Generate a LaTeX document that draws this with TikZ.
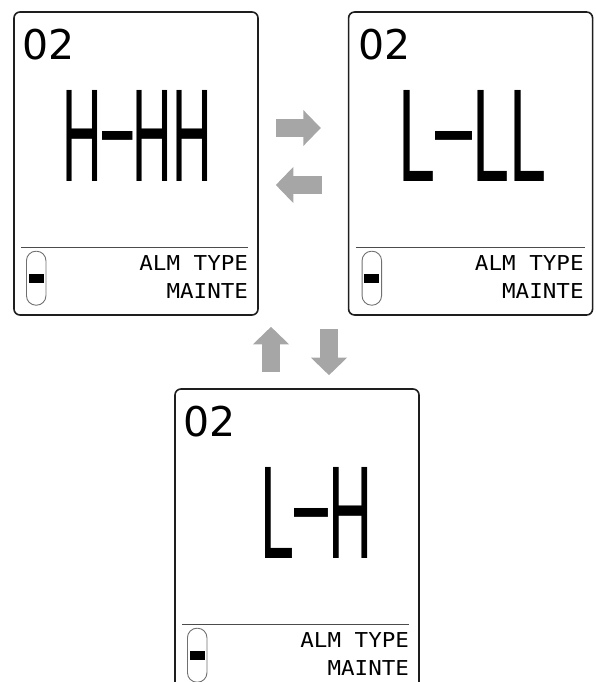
\documentclass[tikz,border=0pt]{standalone}
\usepackage{fontspec}
\setmainfont{DejaVu Sans}
\newfontfamily\numfont{DejaVu Sans}
\newfontfamily\bigfont{Liberation Sans}
\newfontfamily\monofont{DejaVu Sans Mono}
\usepackage{graphicx}
\usetikzlibrary{arrows.meta,positioning,calc}
\definecolor{arrowgray}{HTML}{A6A6A6}
\definecolor{framegray}{HTML}{1E1E1E}
\definecolor{pillgray}{HTML}{707070}
\newcommand{\segdash}{\raisebox{0.09em}{\textendash}}
\newcommand{\bigtxt}[2]{\resizebox{#1}{91pt}{\bigfont #2}}
\newcommand{\lcdtxt}[1]{\scalebox{1.1}[1]{#1}}

\begin{document}
\begin{tikzpicture}[
    x=1pt, y=-1pt,
    >=Triangle,
    panel/.style={
        draw=framegray,
        line width=1.6pt,
        rounded corners=6pt,
        minimum width=244pt,
        minimum height=303pt,
        inner sep=0pt
    },
    sep/.style={draw=black!70, line width=1pt},
    pill/.style={
        draw=pillgray,
        line width=0.9pt,
        rounded corners=9.5pt,
        minimum width=19.5pt,
        minimum height=54pt,
        inner sep=0pt
    },
    knob/.style={fill=black, minimum width=15pt, minimum height=9pt, inner sep=0pt},
    num/.style={anchor=base west, inner sep=0pt, font=\numfont\fontsize{41}{41}\selectfont},
    big/.style={anchor=base east, inner sep=0pt},
    info/.style={anchor=base east, inner sep=0pt, font=\monofont\fontsize{20.5}{20.5}\selectfont},
    flow/.style={draw=arrowgray, line width=18pt, -{Triangle[length=17.5pt,width=35pt]}}
]

\useasboundingbox (0,0) rectangle (595,682);
\clip (0,0) rectangle (595,682);

\node[panel] (hhh) at (136,163.5) {};
\node[panel, right=89pt of hhh] (lll) {};
\node[panel] (lh) at (297,540.5) {};

% H-HH
\node[num] (hhh-id) at ([shift={(9,48)}]hhh.north west) {02};
\node[big] (hhh-val) at ([shift={(199,170)}]hhh.north west) {\bigtxt{149pt}{H\segdash HH}};
\draw[sep] ([shift={(8,236)}]hhh.north west) -- ([shift={(235,236)}]hhh.north west);
\node[pill] (hhh-pill) at ([shift={(23,267)}]hhh.north west) {};
\node[knob] (hhh-knob) at (hhh-pill) {};
\node[info] (hhh-alm) at ([shift={(235,259)}]hhh.north west) {\lcdtxt{ALM TYPE}};
\node[info] (hhh-mnt) at ([shift={(235,287)}]hhh.north west) {\lcdtxt{MAINTE}};

% L-LL
\node[num] (lll-id) at ([shift={(10,48)}]lll.north west) {02};
\node[big] (lll-val) at ([shift={(199,170)}]lll.north west) {\bigtxt{148pt}{L\segdash LL}};
\draw[sep] ([shift={(8,236)}]lll.north west) -- ([shift={(237,236)}]lll.north west);
\node[pill] (lll-pill) at ([shift={(24,267)}]lll.north west) {};
\node[knob] (lll-knob) at (lll-pill) {};
\node[info] (lll-alm) at ([shift={(236,259)}]lll.north west) {\lcdtxt{ALM TYPE}};
\node[info] (lll-mnt) at ([shift={(236,287)}]lll.north west) {\lcdtxt{MAINTE}};

% L-H
\node[num] (lh-id) at ([shift={(9,48)}]lh.north west) {02};
\node[big] (lh-val) at ([shift={(199,170)}]lh.north west) {\bigtxt{112pt}{L\segdash H}};
\draw[sep] ([shift={(8,236)}]lh.north west) -- ([shift={(235,236)}]lh.north west);
\node[pill] (lh-pill) at ([shift={(23,267)}]lh.north west) {};
\node[knob] (lh-knob) at (lh-pill) {};
\node[info] (lh-alm) at ([shift={(235,259)}]lh.north west) {\lcdtxt{ALM TYPE}};
\node[info] (lh-mnt) at ([shift={(235,287)}]lh.north west) {\lcdtxt{MAINTE}};

\coordinate (upfoot) at ([xshift=-26pt]lh.north);
\coordinate (downfoot) at ([xshift=32pt]lh.north);

\draw[flow, shorten <=17pt, shorten >=27pt] ([yshift=35.5pt]hhh.east) -- ([yshift=35.5pt]lll.west);
\draw[flow, shorten <=26pt, shorten >=17pt] ([yshift=-21.5pt]lll.west) -- ([yshift=-21.5pt]hhh.east);
\draw[flow, shorten <=16pt, shorten >=11pt] (upfoot) -- (upfoot |- hhh.south);
\draw[flow, shorten <=13pt, shorten >=13pt] (downfoot |- hhh.south) -- (downfoot);

\end{tikzpicture}
\end{document}
